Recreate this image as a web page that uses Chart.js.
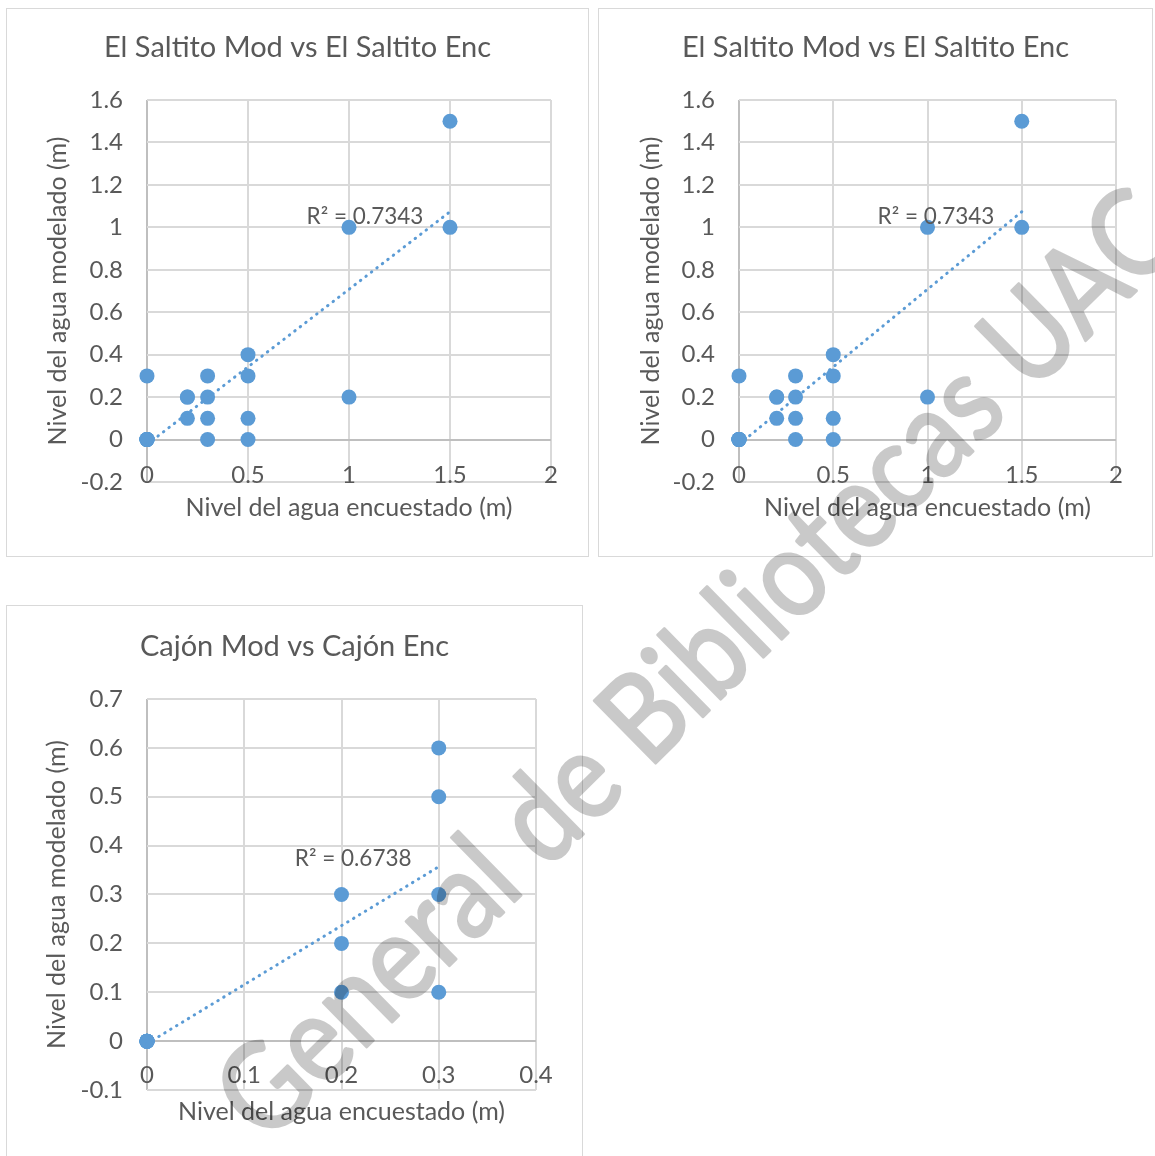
<!DOCTYPE html>
<html>
<head>
<meta charset="utf-8">
<title>Nivel del agua: modelado vs encuestado</title>
<script src="https://cdn.jsdelivr.net/npm/chart.js@4.4.1/dist/chart.umd.min.js"></script>
<style>
  html, body { margin: 0; padding: 0; background: #ffffff; overflow: hidden; width: 1155px; height: 1156px; }
  .panel { position: absolute; box-sizing: border-box; border: 1px solid #d9d9d9; background: #ffffff; }
  .panel canvas { display: block; }
  #marca { position: absolute; left: 0; top: 0; pointer-events: none; }
</style>
</head>
<body>
<div class="panel" style="left:6px; top:8px; width:583px; height:549px;"><canvas id="c1" width="581" height="547"></canvas></div>
<div class="panel" style="left:598px; top:8px; width:555px; height:549px;"><canvas id="c2" width="553" height="547"></canvas></div>
<div class="panel" style="left:6px; top:605px; width:577px; height:560px;"><canvas id="c3" width="575" height="558"></canvas></div>

<svg id="marca" width="1155" height="1156" xmlns="http://www.w3.org/2000/svg">
  <text x="266" y="1146" transform="rotate(-44.5 266 1146)" textLength="1290" lengthAdjust="spacingAndGlyphs"
        font-family="Lato, 'Open Sans', sans-serif" font-size="122" font-weight="normal"
        fill="#000" stroke="#000" stroke-width="3" stroke-linejoin="round" opacity="0.21">General de Bibliotecas UAC</text>
</svg>

<script>
// El Saltito: water level surveyed (Enc) vs modelled (Mod), metres
const saltitoEnc = [0, 0, 0, 0, 0, 0, 0, 0, 0.2, 0.2, 0.2, 0.3, 0.3, 0.3, 0.3, 0.5, 0.5, 0.5, 0.5, 1, 1, 1.5, 1.5];
const saltitoMod = [0, 0, 0, 0, 0, 0, 0, 0.3, 0.2, 0.2, 0.1, 0.3, 0.2, 0.1, 0, 0.4, 0.3, 0.1, 0, 1, 0.2, 1.5, 1];
const saltitoXTicks = [0, 0.5, 1, 1.5, 2];
const saltitoYTicks = [-0.2, 0, 0.2, 0.4, 0.6, 0.8, 1, 1.2, 1.4, 1.6];
const saltitoR2 = 'R² = 0.7343';

// Cajón: water level surveyed (Enc) vs modelled (Mod), metres
const cajonEnc = [0, 0, 0, 0, 0, 0, 0, 0.2, 0.2, 0.2, 0.3, 0.3, 0.3, 0.3];
const cajonMod = [0, 0, 0, 0, 0, 0, 0, 0.3, 0.2, 0.1, 0.6, 0.5, 0.3, 0.1];
const cajonXTicks = [0, 0.1, 0.2, 0.3, 0.4];
const cajonYTicks = [-0.1, 0, 0.1, 0.2, 0.3, 0.4, 0.5, 0.6, 0.7];
const cajonR2 = 'R² = 0.6738';

const BLUE = '#5b9bd5';
const TEXT = '#595959';
const GRID = '#d9d9d9';
const AXIS0 = '#bfbfbf';
const FONT = "Lato, 'Open Sans', sans-serif";

// Least-squares linear trend over the data's x range
function linearTrend(xs, ys) {
  const n = xs.length;
  const mx = xs.reduce((a, b) => a + b, 0) / n;
  const my = ys.reduce((a, b) => a + b, 0) / n;
  let sxx = 0, sxy = 0;
  for (let i = 0; i < n; i++) { sxx += (xs[i] - mx) ** 2; sxy += (xs[i] - mx) * (ys[i] - my); }
  const slope = sxy / sxx, intercept = my - slope * mx;
  const x0 = Math.min(...xs), x1 = Math.max(...xs);
  return [{ x: x0, y: intercept + slope * x0 }, { x: x1, y: intercept + slope * x1 }];
}

// Writes the R² text next to the trend line
const r2Label = {
  id: 'r2Label',
  afterDatasetsDraw(chart, args, opts) {
    const { ctx, scales: { x, y } } = chart;
    ctx.save();
    ctx.font = opts.font;
    ctx.fillStyle = TEXT;
    ctx.textAlign = 'center';
    ctx.textBaseline = 'middle';
    ctx.fillText(opts.text, x.getPixelForValue(opts.at[0]), y.getPixelForValue(opts.at[1]));
    ctx.restore();
  }
};

const fmt = v => String(Math.round(v * 10) / 10);

function makeChart(id, g) {
  const canvas = document.getElementById(id);
  const W = canvas.width, H = canvas.height;
  const side = W - g.area.right;            // equal side padding keeps the title centred
  const pts = g.xs.map((x, i) => ({ x, y: g.ys[i] }));
  const gridColor = c => (c.tick && Math.abs(c.tick.value) < 1e-9 ? AXIS0 : GRID);
  const xMin = g.xTicks[0], xMax = g.xTicks[g.xTicks.length - 1];
  const yMin = g.yTicks[0], yMax = g.yTicks[g.yTicks.length - 1];
  const tickFont = { family: FONT, size: 24, lineHeight: 1.2 };
  const axisTitleFont = { family: FONT, size: 25, lineHeight: 1.2 };

  return new Chart(canvas, {
    type: 'scatter',
    data: {
      datasets: [
        { type: 'scatter', data: pts, backgroundColor: BLUE, borderColor: BLUE, borderWidth: 0, pointRadius: 7.5, clip: false, order: 2 },
        { type: 'line', data: linearTrend(g.xs, g.ys), showLine: true, borderColor: BLUE, borderWidth: 3,
          borderDash: [0.5, 6.4], borderCapStyle: 'round', pointRadius: 0, fill: false, clip: false, order: 1 }
      ]
    },
    options: {
      responsive: false,
      animation: false,
      devicePixelRatio: 1,
      layout: { padding: { left: side, right: side, top: 0, bottom: 0 } },
      plugins: {
        legend: { display: false },
        tooltip: { enabled: false },
        title: {
          display: true, text: g.title, color: TEXT,
          font: { family: FONT, size: 29, weight: 'normal', lineHeight: 1.2 },
          padding: { top: g.titleCenter - 17.4, bottom: g.area.top - (g.titleCenter - 17.4) - 34.8 }
        },
        r2Label: { text: g.r2, at: g.r2At, font: `22.5px ${FONT}` }
      },
      scales: {
        // grid and axis title
        x: {
          type: 'linear', position: 'bottom', min: xMin, max: xMax,
          afterBuildTicks: s => { s.ticks = g.xTicks.map(v => ({ value: v })); },
          afterFit: s => { s.height = H - g.area.bottom; },
          grid: { color: gridColor, lineWidth: 2, drawTicks: false },
          border: { display: false },
          ticks: { display: false },
          title: { display: true, text: 'Nivel del agua encuestado (m)', color: TEXT,
                   font: axisTitleFont, padding: { top: 0, bottom: g.xTitlePad } }
        },
        // tick labels sitting just inside the bottom of the plot
        xLabels: {
          type: 'linear', axis: 'x', position: { y: yMin }, min: xMin, max: xMax,
          afterBuildTicks: s => { s.ticks = g.xTicks.map(v => ({ value: v })); },
          grid: { display: false, drawTicks: false },
          border: { display: false },
          ticks: { color: TEXT, font: tickFont, padding: g.xTickPad, callback: fmt, maxRotation: 0, autoSkip: false }
        },
        y: {
          type: 'linear', position: 'left', min: yMin, max: yMax,
          afterBuildTicks: s => { s.ticks = g.yTicks.map(v => ({ value: v })); },
          afterFit: s => { s.width = g.area.left - side; },
          grid: { color: gridColor, lineWidth: 2, drawTicks: false },
          border: { display: false },
          ticks: { color: TEXT, font: tickFont, padding: 24, callback: fmt },
          title: { display: true, text: 'Nivel del agua modelado (m)', color: TEXT,
                   font: axisTitleFont, padding: { top: g.yTitleCenter - side - 15, bottom: 0 } }
        }
      }
    },
    plugins: [r2Label]
  });
}

makeChart('c1', {
  title: 'El Saltito Mod vs El Saltito Enc', xs: saltitoEnc, ys: saltitoMod,
  xTicks: saltitoXTicks, yTicks: saltitoYTicks, r2: saltitoR2, r2At: [1.079, 1.049],
  area: { left: 140, right: 544, top: 91, bottom: 473 },
  titleCenter: 39, yTitleCenter: 51.3, xTitlePad: 33, xTickPad: -21.4
});

makeChart('c2', {
  title: 'El Saltito Mod vs El Saltito Enc', xs: saltitoEnc, ys: saltitoMod,
  xTicks: saltitoXTicks, yTicks: saltitoYTicks, r2: saltitoR2, r2At: [1.045, 1.049],
  area: { left: 140, right: 517, top: 91, bottom: 473 },
  titleCenter: 39, yTitleCenter: 52, xTitlePad: 33, xTickPad: -21.4
});

makeChart('c3', {
  title: 'Cajón Mod vs Cajón Enc', xs: cajonEnc, ys: cajonMod,
  xTicks: cajonXTicks, yTicks: cajonYTicks, r2: cajonR2, r2At: [0.212, 0.3725],
  area: { left: 140, right: 529, top: 93, bottom: 484 },
  titleCenter: 40.8, yTitleCenter: 49.5, xTitlePad: 36.6, xTickPad: -29.4
});
</script>
</body>
</html>
